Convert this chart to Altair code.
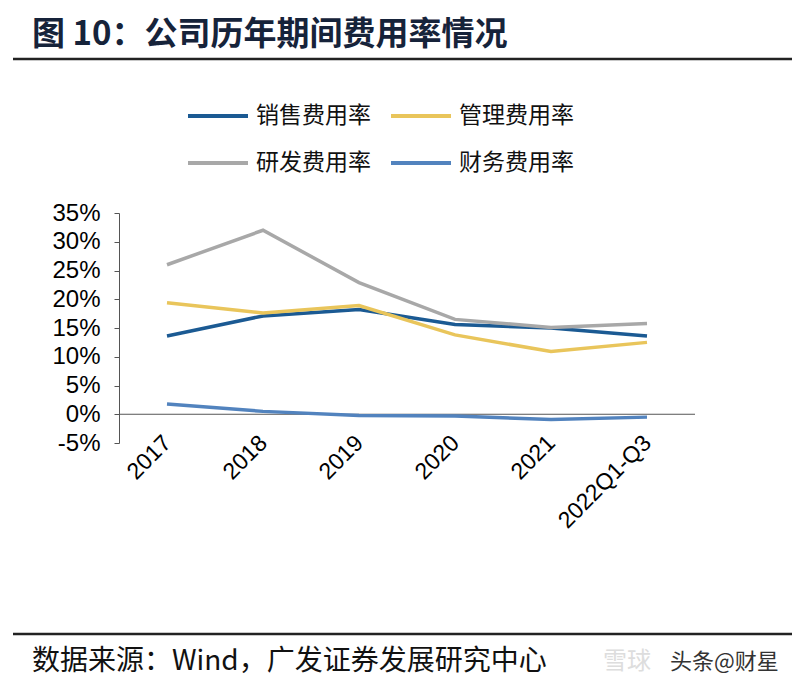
import altair as alt
import pandas as pd

years = ["2017", "2018", "2019", "2020", "2021", "2022Q1-Q3"]
series_names = ["销售费用率", "管理费用率", "研发费用率", "财务费用率"]
sales = [13.6, 17.1, 18.2, 15.6, 15.0, 13.6]
admin = [19.4, 17.6, 18.9, 13.8, 10.9, 12.5]
rnd = [26.0, 32.0, 22.9, 16.5, 15.1, 15.8]
finance = [1.8, 0.5, -0.2, -0.3, -0.9, -0.5]
colors = ["#1B5A93", "#E9C55B", "#A8A8A8", "#5283BE"]
y_ticks = [-5, 0, 5, 10, 15, 20, 25, 30, 35]

# legend fills column-major: order so rows read 销售/管理, 研发/财务
legend_order = ["销售费用率", "研发费用率", "管理费用率", "财务费用率"]
legend_colors = [colors[series_names.index(s)] for s in legend_order]

rows = []
for name, vals in zip(series_names, [sales, admin, rnd, finance]):
    for y, v in zip(years, vals):
        rows.append({"year": y, "series": name, "value": v})
df = pd.DataFrame(rows)

CJK = "Noto Sans CJK SC"
LAT = "Liberation Sans"

y_axis = alt.Axis(title=None, values=y_ticks, grid=False,
                  labelExpr="datum.value + '%'", labelFontSize=24, labelFont=LAT,
                  labelColor="#000", domainColor="#555", tickColor="#555",
                  tickSize=5, labelPadding=14, labelOverlap=False)
y_scale = alt.Scale(domain=[-5, 35], nice=False, zero=False)

lines = alt.Chart(df).mark_line(strokeWidth=3.5).encode(
    x=alt.X("year:N", sort=years, scale=alt.Scale(type="point", padding=0.5),
            axis=alt.Axis(title=None, domain=False, ticks=False, labelAngle=-45,
                          labelFontSize=23, labelFont=LAT, labelColor="#000",
                          labelPadding=-4, labelAlign="right", labelBaseline="middle")),
    y=alt.Y("value:Q", scale=y_scale, axis=y_axis),
    color=alt.Color("series:N", sort=legend_order,
                    scale=alt.Scale(domain=legend_order, range=legend_colors),
                    legend=alt.Legend(title=None, orient="none", legendX=67, legendY=-129,
                                      columns=2, symbolType="stroke", symbolSize=3600,
                                      symbolStrokeWidth=4, labelFontSize=23, labelFont=CJK,
                                      labelColor="#111", columnPadding=12, rowPadding=3,
                                      labelOffset=6, labelLimit=300)),
)

zero = alt.Chart(pd.DataFrame({"value": [0]})).mark_rule(color="#555", strokeWidth=1).encode(
    y=alt.Y("value:Q", scale=y_scale, axis=y_axis), x=alt.value(0), x2=alt.value(576))

top_rule = alt.Chart(pd.DataFrame({"v": [0]})).mark_rule(color="#222", strokeWidth=2.5).encode(
    x=alt.value(-106), x2=alt.value(690), y=alt.value(-154))
bot_rule = alt.Chart(pd.DataFrame({"v": [0]})).mark_rule(color="#222", strokeWidth=2.5).encode(
    x=alt.value(-106), x2=alt.value(690), y=alt.value(421))

title = alt.Chart(pd.DataFrame({"t": ["图 10：公司历年期间费用率情况"]})).mark_text(
    align="left", baseline="middle", fontSize=33, fontWeight="bold", font=CJK, color="#16233A"
).encode(text="t:N", x=alt.value(-87), y=alt.value(-178))

footer = alt.Chart(pd.DataFrame({"t": ["数据来源：Wind，广发证券发展研究中心"]})).mark_text(
    align="left", baseline="middle", fontSize=28, font=CJK, color="#111"
).encode(text="t:N", x=alt.value(-87), y=alt.value(449))

wm1 = alt.Chart(pd.DataFrame({"t": ["雪球"]})).mark_text(
    align="left", baseline="middle", fontSize=24, font=CJK, color="#DDDDDD"
).encode(text="t:N", x=alt.value(484), y=alt.value(449))
wm2 = alt.Chart(pd.DataFrame({"t": ["头条@财星"]})).mark_text(
    align="left", baseline="middle", fontSize=22, font=CJK, color="#333333"
).encode(text="t:N", x=alt.value(551), y=alt.value(449))

chart = alt.layer(zero, lines, top_rule, bot_rule, title, footer, wm1, wm2).properties(
    width=576, height=230,
    background="white",
    autosize=alt.AutoSizeParams(type="none"),
    padding={"left": 111, "top": 205, "right": 97, "bottom": 237},
).configure_view(strokeWidth=0, stroke=None)

chart.save("out.html", embed_options={"renderer": "svg", "actions": False})
